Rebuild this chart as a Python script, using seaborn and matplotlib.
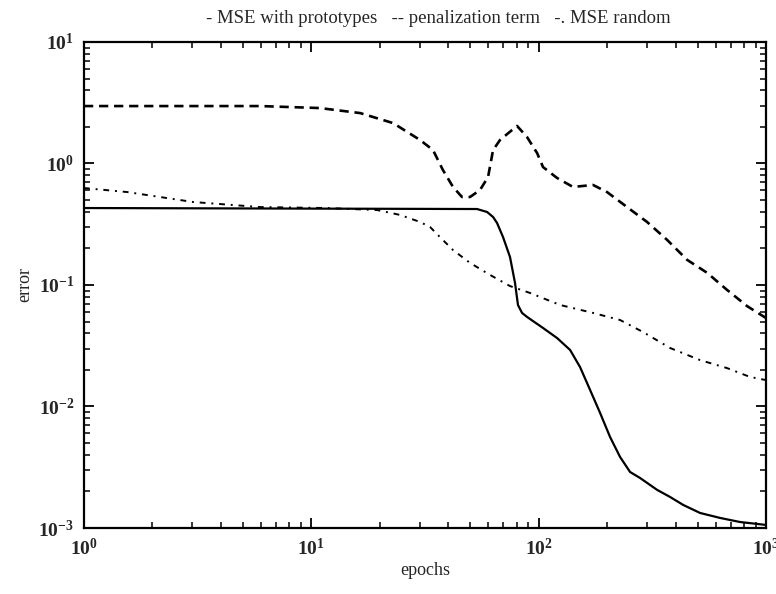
import numpy as np
import pandas as pd
import matplotlib
matplotlib.use("Agg")
import matplotlib.pyplot as plt
import seaborn as sns

# MSE with prototypes (solid)
proto_epochs = [1, 53.6, 59.3, 63.0, 65.6, 69.7, 74.8, 78.7, 81.1, 84.5, 88.9, 104.5,
                120.5, 137.5, 152.1, 168.3, 186.3, 206.1, 228.1, 252.4, 279.3, 331.9,
                378.6, 431.8, 512.6, 628.3, 769.1, 1000]
proto_error = [0.43, 0.422, 0.399, 0.363, 0.324, 0.248, 0.170, 0.104, 0.0684, 0.0589,
               0.0546, 0.0443, 0.0366, 0.0292, 0.0211, 0.0137, 0.00885, 0.00561,
               0.00384, 0.00289, 0.00258, 0.00206, 0.00180, 0.00155, 0.00133,
               0.00121, 0.00112, 0.00106]

# penalization term (dashed)
pen_epochs = [1, 5.95, 10.9, 16.4, 22.9, 30.1, 34.3, 37.9, 42.0, 46.0, 49.9, 55.2, 59.9,
              63.0, 67.6, 80.3, 88.9, 98.4, 104.5, 120.5, 141.6, 173.4, 199.9, 244.8,
              299.9, 367.4, 449.9, 550.8, 674.5, 826, 1000]
pen_error = [2.97, 2.97, 2.86, 2.60, 2.15, 1.56, 1.29, 0.885, 0.641, 0.530, 0.530, 0.605,
             0.774, 1.29, 1.56, 2.04, 1.65, 1.22, 0.935, 0.760, 0.641, 0.666, 0.582,
             0.438, 0.330, 0.235, 0.161, 0.126, 0.091, 0.067, 0.0535]

# MSE random (dash-dot)
rand_epochs = [1, 1.55, 3.02, 5.95, 11.7, 19.5, 24.6, 30.1, 33.3, 36.8, 42.0, 49.9, 61.1,
               74.8, 91.6, 124.2, 173.4, 228.1, 287.9, 378.6, 512.6, 674.5, 851, 1000]
rand_error = [0.628, 0.582, 0.482, 0.438, 0.430, 0.414, 0.377, 0.330, 0.300, 0.248, 0.194,
              0.152, 0.121, 0.098, 0.086, 0.0685, 0.0589, 0.0515, 0.0410, 0.0303,
              0.0241, 0.0207, 0.0175, 0.0165]

title_text = "- MSE with prototypes   -- penalization term   -. MSE random"
x_label = "epochs"
y_label = "error"

sns.set_style("ticks")
plt.rcParams['font.family'] = ['Liberation Serif', 'DejaVu Serif']
plt.rcParams['mathtext.fontset'] = 'custom'
plt.rcParams['mathtext.rm'] = 'Liberation Serif'
plt.rcParams['mathtext.it'] = 'Liberation Serif:italic'
plt.rcParams['mathtext.bf'] = 'Liberation Serif:bold'

fig = plt.figure(figsize=(7.76, 5.94), dpi=100)
ax = fig.add_axes([84/776, 1-528/594, (766-84)/776, (528-42)/594])

df_p = pd.DataFrame({"epochs": proto_epochs, "error": proto_error})
df_n = pd.DataFrame({"epochs": pen_epochs, "error": pen_error})
df_r = pd.DataFrame({"epochs": rand_epochs, "error": rand_error})

sns.lineplot(data=df_p, x="epochs", y="error", ax=ax, color="black", lw=1.6,
             linestyle="-", sort=False)
sns.lineplot(data=df_n, x="epochs", y="error", ax=ax, color="black", lw=1.9,
             linestyle=(0, (3.5, 2.2)), sort=False)
sns.lineplot(data=df_r, x="epochs", y="error", ax=ax, color="black", lw=1.4,
             linestyle=(0, (3, 3, 1, 3)), sort=False)

ax.set_xscale("log")
ax.set_yscale("log")
ax.set_xlim(1, 1000)
ax.set_ylim(1e-3, 10)

for s in ax.spines.values():
    s.set_linewidth(1.6)
    s.set_color("black")

ax.tick_params(which="both", direction="in", top=True, right=True, color="black")
ax.tick_params(which="major", length=7, width=1.3, labelsize=14, pad=7)
ax.tick_params(which="minor", length=4, width=1.1)
ax.xaxis.set_minor_locator(matplotlib.ticker.LogLocator(base=10, subs=np.arange(2, 10)))
ax.yaxis.set_minor_locator(matplotlib.ticker.LogLocator(base=10, subs=np.arange(2, 10)))
ax.yaxis.set_minor_formatter(matplotlib.ticker.NullFormatter())
ax.xaxis.set_minor_formatter(matplotlib.ticker.NullFormatter())
for lab in ax.get_xticklabels() + ax.get_yticklabels():
    lab.set_fontweight("bold")

ax.set_xlabel(x_label, fontsize=13, labelpad=2)
ax.set_ylabel(y_label, fontsize=13, labelpad=4)
ax.set_title(title_text, fontsize=13.5, pad=14, x=0.52)

fig.savefig("out.png", dpi=100, facecolor="white")
